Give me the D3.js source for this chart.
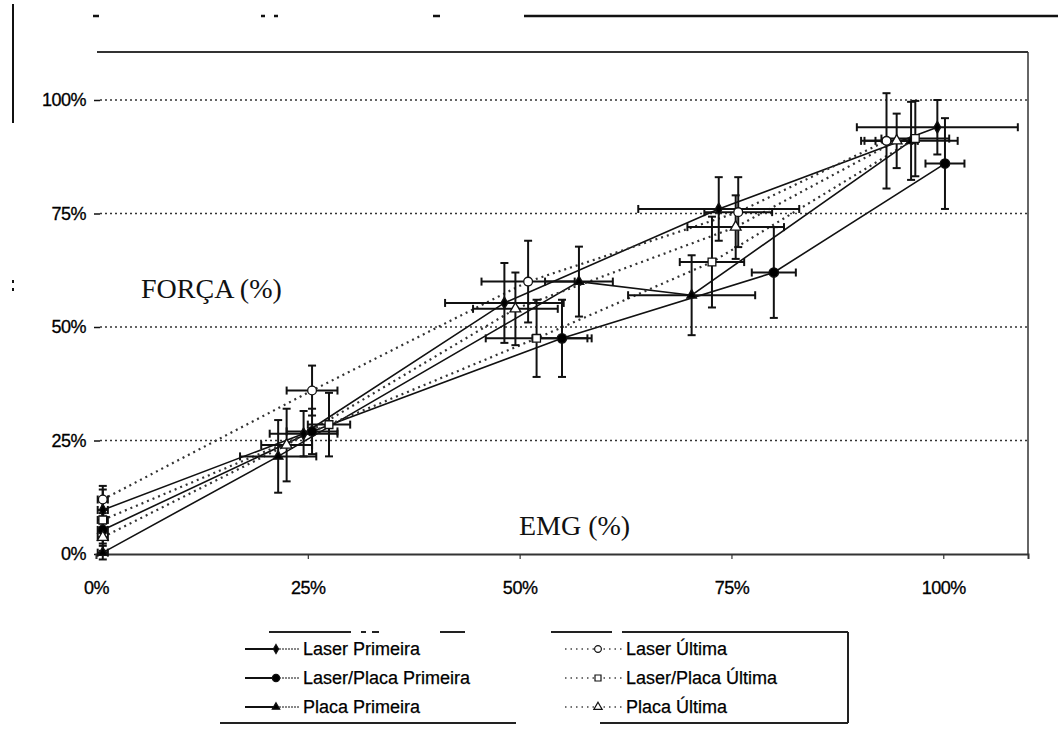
<!DOCTYPE html>
<html>
<head>
<meta charset="utf-8">
<script src="https://cdn.jsdelivr.net/npm/d3@7"></script>
<style>
  body { margin: 0; background: #fff; }
  svg { display: block; }
</style>
</head>
<body>
<svg id="chart" width="1058" height="749"></svg>
<script>
// Force vs EMG (% of maximum), mean ± error for each condition
const seriesNames = ["Laser Primeira", "Laser/Placa Primeira", "Placa Primeira",
                     "Laser Última", "Laser/Placa Última", "Placa Última"];

const emgLaserPrimeira       = [0.8, 24.5, 48.2, 73.5, 99.3];
const emgLaserPlacaPrimeira  = [0.8, 25.5, 55.0, 80.0, 100.2];
const emgPlacaPrimeira       = [0.8, 21.5, 57.0, 70.3, 96.2];
const emgLaserUltima         = [0.8, 25.5, 51.0, 75.8, 93.3];
const emgLaserPlacaUltima    = [0.8, 27.5, 52.0, 72.7, 96.7];
const emgPlacaUltima         = [0.8, 22.5, 49.5, 75.5, 94.5];

const emgErrLaserPrimeira      = [0.6, 4.0, 7.0, 9.5, 9.5];
const emgErrLaserPlacaPrimeira = [0.6, 3.0, 3.5, 2.6, 2.3];
const emgErrPlacaPrimeira      = [0.6, 4.5, 4.0, 7.5, 5.5];
const emgErrLaserUltima        = [0.6, 3.0, 5.5, 4.0, 3.0];
const emgErrLaserPlacaUltima   = [0.6, 2.5, 6.0, 3.8, 4.0];
const emgErrPlacaUltima        = [0.6, 3.0, 5.0, 5.7, 2.5];

const forceLaserPrimeira       = [9.7, 26.5, 55.3, 76.0, 94.0];
const forceLaserPlacaPrimeira  = [5.3, 27.0, 47.5, 62.0, 86.0];
const forcePlacaPrimeira       = [0.3, 21.5, 60.0, 57.0, 91.0];
const forceLaserUltima         = [12.0, 36.0, 60.0, 75.3, 91.0];
const forceLaserPlacaUltima    = [7.5, 28.5, 47.5, 64.3, 91.5];
const forcePlacaUltima         = [3.7, 24.0, 54.0, 72.0, 91.0];

const forceErrLaserPrimeira      = [4.5, 5.0, 8.8, 7.0, 6.0];
const forceErrLaserPlacaPrimeira = [3.0, 5.0, 8.5, 10.0, 10.0];
const forceErrPlacaPrimeira      = [1.5, 8.0, 7.7, 8.8, 8.6];
const forceErrLaserUltima        = [3.0, 5.5, 9.0, 7.7, 10.5];
const forceErrLaserPlacaUltima   = [4.0, 7.0, 8.5, 10.0, 8.3];
const forceErrPlacaUltima        = [3.0, 8.0, 8.0, 7.0, 6.0];

const tickValues = [0, 25, 50, 75, 100];
const tickLabels = ["0%", "25%", "50%", "75%", "100%"];

const emgSets   = [emgLaserPrimeira, emgLaserPlacaPrimeira, emgPlacaPrimeira, emgLaserUltima, emgLaserPlacaUltima, emgPlacaUltima];
const emgErrs   = [emgErrLaserPrimeira, emgErrLaserPlacaPrimeira, emgErrPlacaPrimeira, emgErrLaserUltima, emgErrLaserPlacaUltima, emgErrPlacaUltima];
const forceSets = [forceLaserPrimeira, forceLaserPlacaPrimeira, forcePlacaPrimeira, forceLaserUltima, forceLaserPlacaUltima, forcePlacaUltima];
const forceErrs = [forceErrLaserPrimeira, forceErrLaserPlacaPrimeira, forceErrPlacaPrimeira, forceErrLaserUltima, forceErrLaserPlacaUltima, forceErrPlacaUltima];

// visual style per series
const styles = [
  { symbol: d3.symbolDiamond,  size: 40, fill: "#000", dash: null },
  { symbol: d3.symbolCircle,   size: 70, fill: "#000", dash: null },
  { symbol: d3.symbolTriangle, size: 40, fill: "#000", dash: null },
  { symbol: d3.symbolCircle,   size: 60, fill: "#fff", dash: "2,4" },
  { symbol: d3.symbolSquare,   size: 60, fill: "#fff", dash: "2,4" },
  { symbol: d3.symbolTriangle, size: 50, fill: "#fff", dash: "2,4" }
];

const series = seriesNames.map((name, i) => ({
  name,
  style: styles[i],
  points: emgSets[i].map((e, j) => ({
    emg: e, emgErr: emgErrs[i][j], force: forceSets[i][j], forceErr: forceErrs[i][j]
  }))
}));

const svg = d3.select("#chart");
const x = d3.scaleLinear().domain([0, 110]).range([96, 1028]);
const y = d3.scaleLinear().domain([0, 110]).range([554, 54.6]);

// page edge marks of the printed figure
const edge = svg.append("g").attr("stroke", "#111").attr("fill", "none");
edge.append("line").attr("x1", 524).attr("x2", 1058).attr("y1", 16).attr("y2", 16).attr("stroke-width", 2.5);
[[93, 99], [261, 265], [274, 278], [433, 440]].forEach(([a, b]) =>
  edge.append("line").attr("x1", a).attr("x2", b).attr("y1", 16).attr("y2", 16).attr("stroke-width", 2.5));
edge.append("line").attr("x1", 13).attr("x2", 13).attr("y1", 4).attr("y2", 123).attr("stroke-width", 2);
edge.append("line").attr("x1", 13).attr("x2", 13).attr("y1", 280).attr("y2", 283).attr("stroke-width", 2);
edge.append("line").attr("x1", 13).attr("x2", 13).attr("y1", 288).attr("y2", 291).attr("stroke-width", 2);

// plot frame (top and right)
svg.append("line").attr("x1", x(0) + 1).attr("x2", x(110)).attr("y1", 52).attr("y2", 52)
  .attr("stroke", "#333").attr("stroke-width", 1.8);
svg.append("line").attr("x1", x(110)).attr("x2", x(110)).attr("y1", 52).attr("y2", y(0))
  .attr("stroke", "#333").attr("stroke-width", 1.5);

// dotted gridlines
svg.append("g").selectAll("line").data(tickValues.slice(1)).join("line")
  .attr("x1", x(0) + 4).attr("x2", x(110))
  .attr("y1", d => y(d)).attr("y2", d => y(d))
  .attr("stroke", "#333").attr("stroke-width", 1.6).attr("stroke-dasharray", "2,3");

// y axis: tick marks and labels only
const yAxis = svg.append("g").attr("transform", `translate(${x(0) + 4},0)`)
  .call(d3.axisLeft(y).tickValues(tickValues).tickFormat((d, i) => tickLabels[i])
        .tickSize(6).tickPadding(8));
yAxis.select(".domain").remove();
yAxis.selectAll("line").attr("stroke", "#111").attr("stroke-width", 1.5);
yAxis.selectAll("text").attr("font-family", "Liberation Sans, Arial, sans-serif")
  .attr("font-size", 18).attr("fill", "#000").attr("stroke", "#000").attr("stroke-width", 0.3)
  .attr("letter-spacing", -0.5);

// x axis
const xAxis = svg.append("g").attr("transform", `translate(0,${y(0)})`)
  .call(d3.axisBottom(x).tickValues(tickValues).tickFormat((d, i) => tickLabels[i])
        .tickSize(5).tickPadding(22));
xAxis.select(".domain").attr("stroke", "#333").attr("stroke-width", 2);
xAxis.selectAll("line").attr("stroke", "#333").attr("stroke-width", 1.2);
xAxis.selectAll("text").attr("font-family", "Liberation Sans, Arial, sans-serif")
  .attr("font-size", 18).attr("fill", "#000").attr("stroke", "#000").attr("stroke-width", 0.3)
  .attr("letter-spacing", -0.5);

// axis titles inside the plot
svg.append("text").attr("x", 141).attr("y", 298).text("FORÇA (%)")
  .attr("font-family", "Liberation Serif, Times New Roman, serif").attr("font-size", 28).attr("fill", "#111");
svg.append("text").attr("x", 519).attr("y", 535).text("EMG (%)")
  .attr("font-family", "Liberation Serif, Times New Roman, serif").attr("font-size", 28).attr("fill", "#111");

// connecting lines
const line = d3.line().x(d => x(d.emg)).y(d => y(d.force));
svg.append("g").selectAll("path").data(series).join("path")
  .attr("d", s => line(s.points))
  .attr("fill", "none")
  .attr("stroke", s => s.style.dash ? "#333" : "#111")
  .attr("stroke-width", s => s.style.dash ? 2.2 : 1.6)
  .attr("stroke-dasharray", s => s.style.dash);

// error bars
const cap = 4;
const eb = svg.append("g").attr("stroke", "#111").attr("stroke-width", 2).attr("fill", "none");
series.forEach(s => {
  s.points.forEach(p => {
    const cx = x(p.emg), cy = y(p.force);
    const y0 = y(p.force - p.forceErr), y1 = y(p.force + p.forceErr);
    const x0 = x(p.emg - p.emgErr), x1 = x(p.emg + p.emgErr);
    eb.append("line").attr("x1", cx).attr("x2", cx).attr("y1", y0).attr("y2", y1);
    eb.append("line").attr("x1", cx - cap).attr("x2", cx + cap).attr("y1", y0).attr("y2", y0);
    eb.append("line").attr("x1", cx - cap).attr("x2", cx + cap).attr("y1", y1).attr("y2", y1);
    eb.append("line").attr("x1", x0).attr("x2", x1).attr("y1", cy).attr("y2", cy);
    eb.append("line").attr("x1", x0).attr("x2", x0).attr("y1", cy - cap).attr("y2", cy + cap);
    eb.append("line").attr("x1", x1).attr("x2", x1).attr("y1", cy - cap).attr("y2", cy + cap);
  });
});

// markers
series.forEach(s => {
  svg.append("g").selectAll("path").data(s.points).join("path")
    .attr("transform", p => `translate(${x(p.emg)},${y(p.force)})`)
    .attr("d", d3.symbol().type(s.style.symbol).size(s.style.size))
    .attr("fill", s.style.fill).attr("stroke", "#111").attr("stroke-width", 1.3);
});

// legend
const legend = svg.append("g");
const lg = legend.append("g").attr("stroke", "#222").attr("fill", "none").attr("stroke-width", 2);
[[269, 351], [361, 366], [372, 379], [440, 465], [551, 612], [622, 848]].forEach(([a, b]) =>
  lg.append("line").attr("x1", a).attr("x2", b).attr("y1", 632).attr("y2", 632));
[[220, 516], [600, 848]].forEach(([a, b]) =>
  lg.append("line").attr("x1", a).attr("x2", b).attr("y1", 723).attr("y2", 723));
lg.append("line").attr("x1", 848).attr("x2", 848).attr("y1", 632).attr("y2", 723);

const rowY = [649, 678, 707];
series.forEach((s, i) => {
  const col = i < 3 ? 0 : 1;
  const row = i % 3;
  const sx = col === 0 ? 245 : 565;
  const mx = col === 0 ? 276 : 598;
  const tx = col === 0 ? 303 : 626;
  const ly = rowY[row];
  const g = legend.append("g");
  if (!s.style.dash) {
    g.append("line").attr("x1", sx).attr("x2", mx).attr("y1", ly).attr("y2", ly)
      .attr("stroke", "#111").attr("stroke-width", 2);
    g.append("line").attr("x1", mx).attr("x2", tx - 3).attr("y1", ly).attr("y2", ly)
      .attr("stroke", "#111").attr("stroke-width", 1).attr("stroke-dasharray", "2,1");
  } else {
    g.append("line").attr("x1", sx).attr("x2", tx - 3).attr("y1", ly).attr("y2", ly)
      .attr("stroke", "#444").attr("stroke-width", 1.5).attr("stroke-dasharray", "1.5,4");
  }
  g.append("path").attr("transform", `translate(${mx},${ly})`)
    .attr("d", d3.symbol().type(s.style.symbol).size(s.style.size * 0.6))
    .attr("fill", s.style.fill).attr("stroke", "#111").attr("stroke-width", 1.2);
  g.append("text").attr("x", tx).attr("y", ly + 6).text(s.name)
    .attr("font-family", "Liberation Sans, Arial, sans-serif").attr("font-size", 18)
    .attr("fill", "#000").attr("stroke", "#000").attr("stroke-width", 0.25);
});
</script>
</body>
</html>
